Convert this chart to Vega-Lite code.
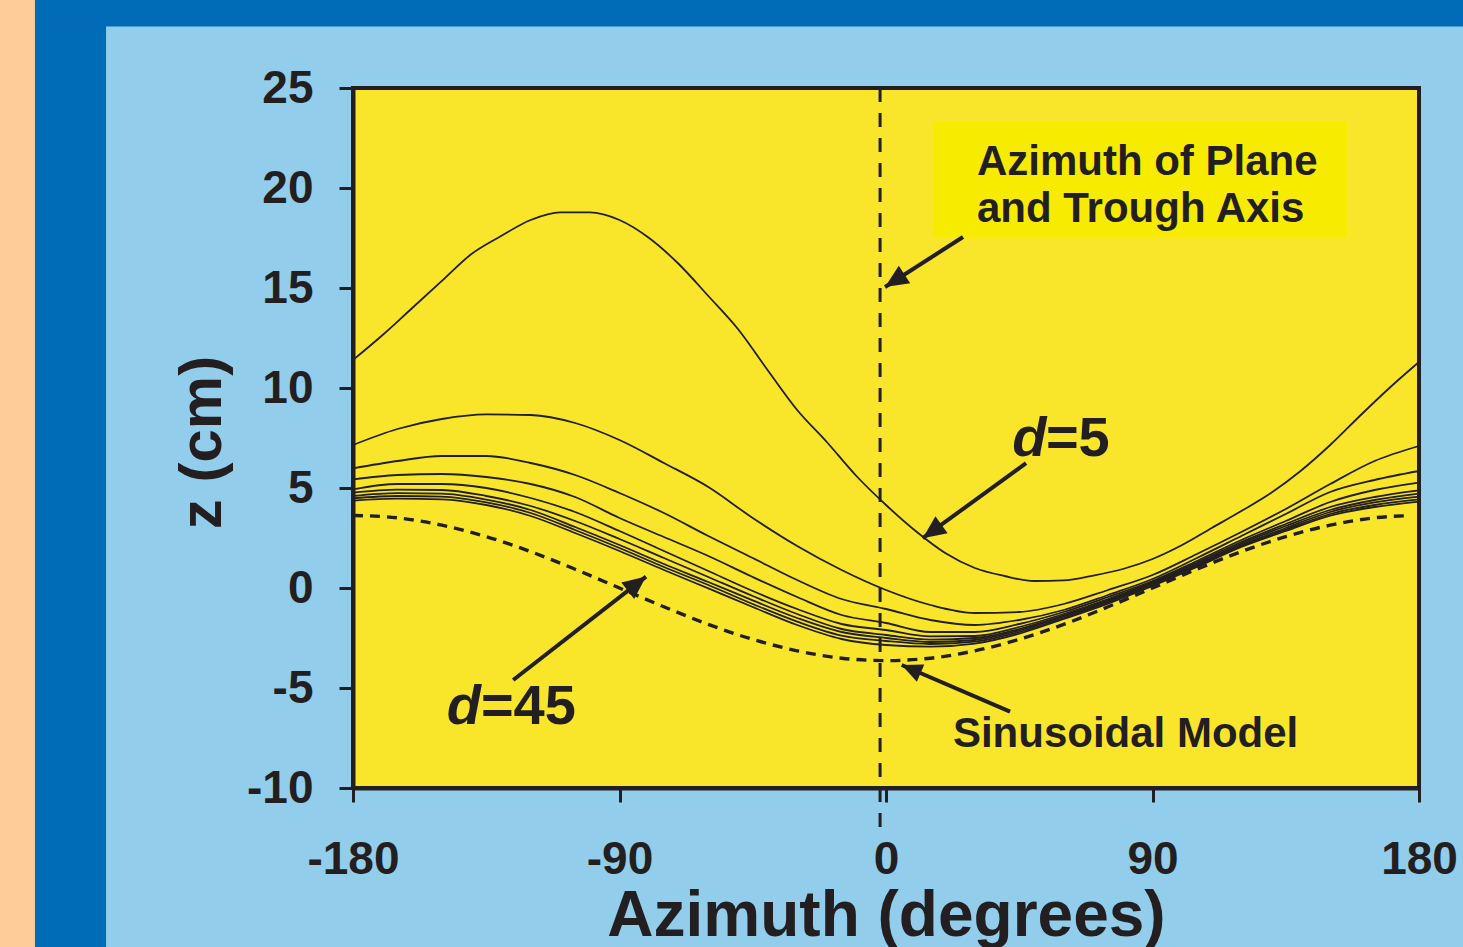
{
  "$schema": "https://vega.github.io/schema/vega-lite/v6.json",
  "width": 1066,
  "height": 700,
  "autosize": {"type": "none"},
  "padding": {"left": 353, "top": 88, "right": 44, "bottom": 159},
  "background": "#92CEEB",
  "config": {
    "font": "Liberation Sans",
    "view": {"fill": "#F9E62A", "stroke": "#231F20", "strokeWidth": 4}
  },
  "encoding": {
    "x": {"field": "az", "type": "quantitative",
      "scale": {"domain": [-180, 180], "nice": false, "zero": false},
      "axis": {"title": "Azimuth (degrees)", "values": [-180, -90, 0, 90, 180], "labelExpr": "'' + datum.value",
        "labelFlush": false, "labelOverlap": false, "labelFontSize": 46, "labelFontWeight": "bold", "labelPadding": 35,
        "labelColor": "#231F20", "tickSize": 14, "tickWidth": 3, "tickColor": "#231F20", "domainColor": "#231F20",
        "domainWidth": 4, "grid": false, "titleFontSize": 64, "titleFontWeight": "bold", "titleColor": "#231F20",
        "titleY": 147, "titleBaseline": "alphabetic"}},
    "y": {"field": "z", "type": "quantitative",
      "scale": {"domain": [-10, 25], "nice": false, "zero": false},
      "axis": {"title": "z (cm)", "values": [-10, -5, 0, 5, 10, 15, 20, 25], "labelExpr": "'' + datum.value",
        "labelFlush": false, "labelOverlap": false, "labelFontSize": 46, "labelFontWeight": "bold", "labelPadding": 26,
        "labelColor": "#231F20", "tickSize": 14, "tickWidth": 3, "tickColor": "#231F20", "domainColor": "#231F20",
        "domainWidth": 4, "grid": false, "titleFontSize": 60, "titleFontWeight": "bold", "titleColor": "#231F20",
        "titleAngle": 270, "titleX": -133, "titleY": 354, "titleBaseline": "alphabetic", "titleAlign": "center"}}
  },
  "layer": [
    {
      "data": {"values": [
        {"part": "peach", "az": -320, "az2": -287.4, "z": 31, "z2": -20},
        {"part": "dark", "az": -287.4, "az2": -263.4, "z": 31, "z2": -20},
        {"part": "dark", "az": -287.4, "az2": 200, "z": 31, "z2": 28.07}
      ]},
      "mark": {"type": "rect"},
      "encoding": {
        "x2": {"field": "az2"},
        "y2": {"field": "z2"},
        "color": {"field": "part", "type": "nominal", "scale": {"domain": ["peach", "dark"], "range": ["#FECC99", "#006BB6"]}, "legend": null}
      }
    },
    {
      "data": {"values": [{"az": 15.9, "az2": 155.7, "z": 23.3, "z2": 17.55}]},
      "mark": {"type": "rect", "color": "#F7EC00"},
      "encoding": {"x2": {"field": "az2"}, "y2": {"field": "z2"}}
    },
    {
      "data": {"values": [
        {"d":5,"az":-180,"z":11.4},{"d":5,"az":-170,"z":12.65},{"d":5,"az":-160,"z":14.0},{"d":5,"az":-150,"z":15.35},{"d":5,"az":-140,"z":16.7},{"d":5,"az":-130,"z":17.6},{"d":5,"az":-120,"z":18.4},{"d":5,"az":-110,"z":18.78},{"d":5,"az":-100,"z":18.78},{"d":5,"az":-90,"z":18.4},{"d":5,"az":-80,"z":17.5},{"d":5,"az":-70,"z":16.2},{"d":5,"az":-60,"z":14.6},{"d":5,"az":-50,"z":12.95},{"d":5,"az":-40,"z":10.9},{"d":5,"az":-30,"z":8.9},{"d":5,"az":-20,"z":7.3},{"d":5,"az":-10,"z":5.6},{"d":5,"az":0,"z":4.15},{"d":5,"az":10,"z":2.85},{"d":5,"az":20,"z":1.75},{"d":5,"az":30,"z":1.0},{"d":5,"az":40,"z":0.6},{"d":5,"az":50,"z":0.35},{"d":5,"az":60,"z":0.38},{"d":5,"az":70,"z":0.62},{"d":5,"az":80,"z":0.95},{"d":5,"az":90,"z":1.45},{"d":5,"az":100,"z":2.15},{"d":5,"az":110,"z":3.0},{"d":5,"az":120,"z":3.85},{"d":5,"az":130,"z":4.75},{"d":5,"az":140,"z":5.85},{"d":5,"az":150,"z":7.15},{"d":5,"az":160,"z":8.6},{"d":5,"az":170,"z":10.0},{"d":5,"az":180,"z":11.3},
        {"d":10,"az":-180,"z":7.15},{"d":10,"az":-165,"z":7.95},{"d":10,"az":-150,"z":8.45},{"d":10,"az":-135,"z":8.68},{"d":10,"az":-120,"z":8.65},{"d":10,"az":-105,"z":8.25},{"d":10,"az":-90,"z":7.4},{"d":10,"az":-75,"z":6.25},{"d":10,"az":-60,"z":5.05},{"d":10,"az":-45,"z":3.5},{"d":10,"az":-30,"z":2.1},{"d":10,"az":-15,"z":0.9},{"d":10,"az":0,"z":-0.1},{"d":10,"az":15,"z":-0.85},{"d":10,"az":30,"z":-1.25},{"d":10,"az":45,"z":-1.2},{"d":10,"az":60,"z":-0.8},{"d":10,"az":75,"z":-0.1},{"d":10,"az":90,"z":0.65},{"d":10,"az":105,"z":1.7},{"d":10,"az":120,"z":2.8},{"d":10,"az":135,"z":3.95},{"d":10,"az":150,"z":5.2},{"d":10,"az":165,"z":6.35},{"d":10,"az":180,"z":7.1},
        {"d":15,"az":-180,"z":5.98},{"d":15,"az":-165,"z":6.35},{"d":15,"az":-150,"z":6.6},{"d":15,"az":-135,"z":6.6},{"d":15,"az":-120,"z":6.25},{"d":15,"az":-105,"z":5.65},{"d":15,"az":-90,"z":4.75},{"d":15,"az":-75,"z":3.75},{"d":15,"az":-60,"z":2.6},{"d":15,"az":-45,"z":1.5},{"d":15,"az":-30,"z":0.4},{"d":15,"az":-15,"z":-0.55},{"d":15,"az":0,"z":-1.05},{"d":15,"az":15,"z":-1.6},{"d":15,"az":30,"z":-1.85},{"d":15,"az":45,"z":-1.6},{"d":15,"az":60,"z":-1.1},{"d":15,"az":75,"z":-0.35},{"d":15,"az":90,"z":0.45},{"d":15,"az":105,"z":1.5},{"d":15,"az":120,"z":2.6},{"d":15,"az":135,"z":3.7},{"d":15,"az":150,"z":4.8},{"d":15,"az":165,"z":5.4},{"d":15,"az":180,"z":5.85},
        {"d":20,"az":-180,"z":5.43},{"d":20,"az":-165,"z":5.65},{"d":20,"az":-150,"z":5.7},{"d":20,"az":-135,"z":5.55},{"d":20,"az":-120,"z":5.2},{"d":20,"az":-105,"z":4.55},{"d":20,"az":-90,"z":3.5},{"d":20,"az":-75,"z":2.55},{"d":20,"az":-60,"z":1.6},{"d":20,"az":-45,"z":0.55},{"d":20,"az":-30,"z":-0.45},{"d":20,"az":-15,"z":-1.35},{"d":20,"az":0,"z":-1.75},{"d":20,"az":15,"z":-2.2},{"d":20,"az":30,"z":-2.2},{"d":20,"az":45,"z":-1.8},{"d":20,"az":60,"z":-1.2},{"d":20,"az":75,"z":-0.45},{"d":20,"az":90,"z":0.35},{"d":20,"az":105,"z":1.35},{"d":20,"az":120,"z":2.4},{"d":20,"az":135,"z":3.35},{"d":20,"az":150,"z":4.3},{"d":20,"az":165,"z":4.9},{"d":20,"az":180,"z":5.27},
        {"d":25,"az":-180,"z":4.93},{"d":25,"az":-165,"z":5.2},{"d":25,"az":-150,"z":5.2},{"d":25,"az":-135,"z":5.0},{"d":25,"az":-120,"z":4.5},{"d":25,"az":-105,"z":3.8},{"d":25,"az":-90,"z":2.85},{"d":25,"az":-75,"z":1.85},{"d":25,"az":-60,"z":0.85},{"d":25,"az":-45,"z":-0.15},{"d":25,"az":-30,"z":-1.05},{"d":25,"az":-15,"z":-1.8},{"d":25,"az":0,"z":-2.1},{"d":25,"az":15,"z":-2.42},{"d":25,"az":30,"z":-2.4},{"d":25,"az":45,"z":-1.95},{"d":25,"az":60,"z":-1.3},{"d":25,"az":75,"z":-0.55},{"d":25,"az":90,"z":0.3},{"d":25,"az":105,"z":1.27},{"d":25,"az":120,"z":2.3},{"d":25,"az":135,"z":3.2},{"d":25,"az":150,"z":4.05},{"d":25,"az":165,"z":4.55},{"d":25,"az":180,"z":4.88},
        {"d":30,"az":-180,"z":4.77},{"d":30,"az":-165,"z":4.92},{"d":30,"az":-150,"z":4.9},{"d":30,"az":-135,"z":4.6},{"d":30,"az":-120,"z":4.1},{"d":30,"az":-105,"z":3.35},{"d":30,"az":-90,"z":2.45},{"d":30,"az":-75,"z":1.5},{"d":30,"az":-60,"z":0.55},{"d":30,"az":-45,"z":-0.4},{"d":30,"az":-30,"z":-1.3},{"d":30,"az":-15,"z":-2.05},{"d":30,"az":0,"z":-2.35},{"d":30,"az":15,"z":-2.58},{"d":30,"az":30,"z":-2.5},{"d":30,"az":45,"z":-2.05},{"d":30,"az":60,"z":-1.37},{"d":30,"az":75,"z":-0.6},{"d":30,"az":90,"z":0.25},{"d":30,"az":105,"z":1.2},{"d":30,"az":120,"z":2.22},{"d":30,"az":135,"z":3.1},{"d":30,"az":150,"z":3.9},{"d":30,"az":165,"z":4.4},{"d":30,"az":180,"z":4.72},
        {"d":35,"az":-180,"z":4.6},{"d":35,"az":-165,"z":4.74},{"d":35,"az":-150,"z":4.72},{"d":35,"az":-135,"z":4.42},{"d":35,"az":-120,"z":3.9},{"d":35,"az":-105,"z":3.05},{"d":35,"az":-90,"z":2.15},{"d":35,"az":-75,"z":1.2},{"d":35,"az":-60,"z":0.3},{"d":35,"az":-45,"z":-0.62},{"d":35,"az":-30,"z":-1.5},{"d":35,"az":-15,"z":-2.2},{"d":35,"az":0,"z":-2.5},{"d":35,"az":15,"z":-2.7},{"d":35,"az":30,"z":-2.6},{"d":35,"az":45,"z":-2.12},{"d":35,"az":60,"z":-1.43},{"d":35,"az":75,"z":-0.66},{"d":35,"az":90,"z":0.2},{"d":35,"az":105,"z":1.15},{"d":35,"az":120,"z":2.15},{"d":35,"az":135,"z":3.0},{"d":35,"az":150,"z":3.8},{"d":35,"az":165,"z":4.28},{"d":35,"az":180,"z":4.57},
        {"d":40,"az":-180,"z":4.48},{"d":40,"az":-165,"z":4.6},{"d":40,"az":-150,"z":4.57},{"d":40,"az":-135,"z":4.28},{"d":40,"az":-120,"z":3.75},{"d":40,"az":-105,"z":2.9},{"d":40,"az":-90,"z":2.0},{"d":40,"az":-75,"z":1.05},{"d":40,"az":-60,"z":0.15},{"d":40,"az":-45,"z":-0.8},{"d":40,"az":-30,"z":-1.68},{"d":40,"az":-15,"z":-2.38},{"d":40,"az":0,"z":-2.65},{"d":40,"az":15,"z":-2.8},{"d":40,"az":30,"z":-2.68},{"d":40,"az":45,"z":-2.2},{"d":40,"az":60,"z":-1.5},{"d":40,"az":75,"z":-0.72},{"d":40,"az":90,"z":0.15},{"d":40,"az":105,"z":1.1},{"d":40,"az":120,"z":2.1},{"d":40,"az":135,"z":2.92},{"d":40,"az":150,"z":3.7},{"d":40,"az":165,"z":4.15},{"d":40,"az":180,"z":4.43},
        {"d":45,"az":-180,"z":4.37},{"d":45,"az":-165,"z":4.47},{"d":45,"az":-150,"z":4.43},{"d":45,"az":-135,"z":4.15},{"d":45,"az":-120,"z":3.6},{"d":45,"az":-105,"z":2.75},{"d":45,"az":-90,"z":1.85},{"d":45,"az":-75,"z":0.9},{"d":45,"az":-60,"z":-0.02},{"d":45,"az":-45,"z":-0.95},{"d":45,"az":-30,"z":-1.85},{"d":45,"az":-15,"z":-2.55},{"d":45,"az":0,"z":-2.85},{"d":45,"az":15,"z":-2.93},{"d":45,"az":30,"z":-2.78},{"d":45,"az":45,"z":-2.28},{"d":45,"az":60,"z":-1.55},{"d":45,"az":75,"z":-0.78},{"d":45,"az":90,"z":0.1},{"d":45,"az":105,"z":1.05},{"d":45,"az":120,"z":2.05},{"d":45,"az":135,"z":2.85},{"d":45,"az":150,"z":3.62},{"d":45,"az":165,"z":4.05},{"d":45,"az":180,"z":4.32}
      ]},
      "mark": {"type": "line", "interpolate": "monotone", "color": "#231F20", "strokeWidth": 1.8},
      "encoding": {"detail": {"field": "d", "type": "nominal"}}
    },
    {
      "data": {"values": [
        {"az":-180,"z":3.63},{"az":-165,"z":3.51},{"az":-150,"z":3.14},{"az":-135,"z":2.57},{"az":-120,"z":1.82},{"az":-105,"z":0.94},{"az":-90,"z":0.0},{"az":-75,"z":-0.94},{"az":-60,"z":-1.82},{"az":-45,"z":-2.57},{"az":-30,"z":-3.14},{"az":-15,"z":-3.51},{"az":0,"z":-3.63},{"az":15,"z":-3.51},{"az":30,"z":-3.14},{"az":45,"z":-2.57},{"az":60,"z":-1.82},{"az":75,"z":-0.94},{"az":90,"z":0.0},{"az":105,"z":0.94},{"az":120,"z":1.82},{"az":135,"z":2.57},{"az":150,"z":3.14},{"az":165,"z":3.51},{"az":177,"z":3.62}
      ]},
      "mark": {"type": "line", "interpolate": "monotone", "color": "#231F20", "strokeWidth": 3.4, "strokeDash": [10, 7]},
      "encoding": {}
    },
    {
      "data": {"values": [{"az": -2, "z": 25, "z2": -12}]},
      "mark": {"type": "rule", "color": "#231F20", "strokeWidth": 3, "strokeDash": [14, 11]},
      "encoding": {"y2": {"field": "z2"}}
    },
    {
      "data": {"values": [
        {"name": "plane", "az": -0.33, "z": 15.05, "az2": 26.0, "z2": 17.55},
        {"name": "d5", "az": 12.4, "z": 2.49, "az2": 47.3, "z2": 6.24},
        {"name": "d45", "az": -81.05, "z": 0.57, "az2": -125.9, "z2": -4.6},
        {"name": "model", "az": 5.3, "z": -3.85, "az2": 41.9, "z2": -6.18}
      ]},
      "layer": [
        {"mark": {"type": "rule", "color": "#231F20", "strokeWidth": 4},
         "encoding": {"x2": {"field": "az2"}, "y2": {"field": "z2"}}},
        {"transform": [{"filter": "datum.name === 'plane'"}],
         "mark": {"type": "point", "shape": "M0,0L-0.5,1.1L0.5,1.1Z", "size": 1764, "filled": true, "color": "#231F20", "opacity": 1, "angle": 237.3}},
        {"transform": [{"filter": "datum.name === 'd5'"}],
         "mark": {"type": "point", "shape": "M0,0L-0.5,1.1L0.5,1.1Z", "size": 1764, "filled": true, "color": "#231F20", "opacity": 1, "angle": 234.5}},
        {"transform": [{"filter": "datum.name === 'd45'"}],
         "mark": {"type": "point", "shape": "M0,0L-0.5,1.1L0.5,1.1Z", "size": 1764, "filled": true, "color": "#231F20", "opacity": 1, "angle": 52.2}},
        {"transform": [{"filter": "datum.name === 'model'"}],
         "mark": {"type": "point", "shape": "M0,0L-0.5,1.1L0.5,1.1Z", "size": 1400, "filled": true, "color": "#231F20", "opacity": 1, "angle": 293.4}}
      ]
    },
    {
      "data": {"values": [
        {"label": "Azimuth of Plane", "az": 30.7, "z": 20.65},
        {"label": "and Trough Axis", "az": 30.7, "z": 18.3}
      ]},
      "mark": {"type": "text", "align": "left", "baseline": "alphabetic", "fontSize": 42, "fontWeight": "bold", "color": "#231F20"},
      "encoding": {"text": {"field": "label"}}
    },
    {
      "data": {"values": [{"label": "Sinusoidal Model", "az": 22.6, "z": -7.93}]},
      "mark": {"type": "text", "align": "left", "baseline": "alphabetic", "fontSize": 42, "fontWeight": "bold", "color": "#231F20"},
      "encoding": {"text": {"field": "label"}}
    },
    {
      "data": {"values": [
        {"label": "d", "az": 42.6, "z": 6.6},
        {"label": "d", "az": -148.3, "z": -6.8}
      ]},
      "mark": {"type": "text", "align": "left", "baseline": "alphabetic", "fontSize": 56, "fontWeight": "bold", "fontStyle": "italic", "color": "#231F20"},
      "encoding": {"text": {"field": "label"}}
    },
    {
      "data": {"values": [
        {"label": "=5", "az": 54.0, "z": 6.6},
        {"label": "=45", "az": -136.8, "z": -6.8}
      ]},
      "mark": {"type": "text", "align": "left", "baseline": "alphabetic", "fontSize": 56, "fontWeight": "bold", "color": "#231F20"},
      "encoding": {"text": {"field": "label"}}
    }
  ]
}
